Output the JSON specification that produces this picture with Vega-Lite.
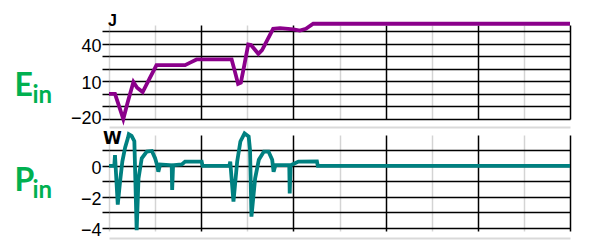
{
  "$schema": "https://vega.github.io/schema/vega-lite/v6.json",
  "background": "white",
  "padding": {"left": 14, "top": 13, "right": 5, "bottom": 5},
  "bounds": "flush",
  "spacing": 16,
  "config": {"view": {"stroke": null}},
  "datasets": {
    "E": [
      {"t": 0, "v": 0}, {"t": 0.13, "v": 0}, {"t": 0.22, "v": -10}, {"t": 0.31, "v": -20},
      {"t": 0.41, "v": -6}, {"t": 0.53, "v": 9.5}, {"t": 0.61, "v": 5}, {"t": 0.73, "v": 1.5},
      {"t": 0.89, "v": 13}, {"t": 1.03, "v": 23}, {"t": 1.65, "v": 23}, {"t": 1.76, "v": 25},
      {"t": 1.9, "v": 27.5}, {"t": 2.66, "v": 27.5}, {"t": 2.73, "v": 18}, {"t": 2.8, "v": 8},
      {"t": 2.86, "v": 9}, {"t": 2.93, "v": 22}, {"t": 3.02, "v": 39.5}, {"t": 3.08, "v": 39},
      {"t": 3.24, "v": 32}, {"t": 3.32, "v": 35}, {"t": 3.56, "v": 52}, {"t": 3.71, "v": 52.5},
      {"t": 4.0, "v": 51.5}, {"t": 4.14, "v": 50.5}, {"t": 4.27, "v": 52}, {"t": 4.43, "v": 56},
      {"t": 10, "v": 56}
    ],
    "P": [
      {"t": 0, "v": 0}, {"t": 0.115, "v": 0}, {"t": 0.13, "v": 0.7}, {"t": 0.19, "v": -2.5},
      {"t": 0.24, "v": -1.0}, {"t": 0.29, "v": 0.3}, {"t": 0.35, "v": 1.2}, {"t": 0.41, "v": 1.8},
      {"t": 0.43, "v": 2.05}, {"t": 0.49, "v": 1.95}, {"t": 0.55, "v": 1.6}, {"t": 0.6, "v": -4.15},
      {"t": 0.64, "v": -0.8}, {"t": 0.71, "v": 0.5}, {"t": 0.82, "v": 0.93}, {"t": 0.93, "v": 0.97},
      {"t": 1.0, "v": 0.5}, {"t": 1.04, "v": 0.1}, {"t": 1.07, "v": -0.37}, {"t": 1.11, "v": 0.1},
      {"t": 1.36, "v": 0.05}, {"t": 1.37, "v": -1.55}, {"t": 1.39, "v": 0.05}, {"t": 1.58, "v": 0.1},
      {"t": 1.65, "v": 0.28}, {"t": 2.01, "v": 0.28}, {"t": 2.03, "v": 0}, {"t": 2.61, "v": 0},
      {"t": 2.63, "v": 0.28}, {"t": 2.7, "v": -2.3}, {"t": 2.78, "v": 0.28}, {"t": 2.85, "v": 1.58},
      {"t": 2.94, "v": 2.1}, {"t": 3.03, "v": 1.9}, {"t": 3.06, "v": 1.0}, {"t": 3.09, "v": -3.27},
      {"t": 3.17, "v": -0.8}, {"t": 3.25, "v": 0.4}, {"t": 3.36, "v": 0.93}, {"t": 3.46, "v": 0.93},
      {"t": 3.54, "v": 0.4}, {"t": 3.57, "v": -0.37}, {"t": 3.61, "v": 0.05}, {"t": 3.91, "v": 0.05},
      {"t": 3.92, "v": -1.77}, {"t": 3.94, "v": 0.05}, {"t": 4.11, "v": 0.28}, {"t": 4.51, "v": 0.3},
      {"t": 4.53, "v": 0}, {"t": 10, "v": 0}
    ]
  },
  "vconcat": [
    {
      "width": 461,
      "height": 94,
      "data": {"name": "E"},
      "title": {"text": "J", "anchor": "start", "frame": "group", "font": "Liberation Sans", "fontSize": 16, "fontWeight": "bold", "color": "black", "offset": -13, "dx": -1},
      "mark": {"type": "line", "color": "#8b008b", "strokeWidth": 3.8, "clip": false},
      "encoding": {
        "x": {
          "field": "t", "type": "quantitative",
          "scale": {"domain": [0, 10], "nice": false, "zero": false},
          "axis": {
            "values": [0, 1, 2, 3, 4, 5, 6, 7, 8, 9, 10],
            "grid": true,
            "gridColor": {"condition": {"test": "datum.value % 2 === 0 && datum.value > 0", "value": "#000000"}, "value": "#d4d4d4"},
            "gridWidth": 1.5, "gridOpacity": 1,
            "labels": false, "ticks": false,
            "domain": true, "domainColor": "#d9d9d9", "domainWidth": 2, "offset": 8,
            "title": "in", "titleFont": "Lato", "titleFontSize": 24, "titleFontWeight": "bold", "titleColor": "#00b050",
            "titleAngle": 0, "titleAlign": "left", "titleBaseline": "alphabetic", "titleX": -77, "titleY": -25
          }
        },
        "y": {
          "field": "v", "type": "quantitative",
          "scale": {"domain": [-20, 55], "nice": false, "zero": false},
          "axis": {
            "values": [-20, -10, 0, 10, 20, 30, 40, 50],
            "grid": true, "gridColor": "#000000", "gridWidth": 1.5, "gridOpacity": 1,
            "ticks": true, "tickColor": "#000000", "tickSize": 7, "tickWidth": 1.5,
            "domain": false,
            "labelExpr": "datum.value == -20 || datum.value == 10 || datum.value == 40 ? datum.label : ''",
            "labelFont": "Liberation Sans", "labelFontSize": 18, "labelColor": "#000000", "labelPadding": 1,
            "labelOffset": {"condition": {"test": "datum.value == -20", "value": -1}, "value": 2.5},
            "labelBaseline": "middle", "labelOverlap": false, "labelFlush": false,
            "title": "E", "titleFont": "Lato", "titleFontSize": 32, "titleFontWeight": "bold", "titleColor": "#00b050",
            "titleAngle": 0, "titleAlign": "left", "titleBaseline": "alphabetic", "titleX": -95, "titleY": 70
          }
        }
      }
    },
    {
      "width": 461,
      "height": 96,
      "data": {"name": "P"},
      "title": {"text": "W", "anchor": "start", "frame": "group", "font": "DejaVu Sans", "fontSize": 17, "fontWeight": "bold", "color": "black", "offset": -22, "dx": -6},
      "mark": {"type": "line", "color": "#008080", "strokeWidth": 3.8, "clip": false},
      "encoding": {
        "x": {
          "field": "t", "type": "quantitative",
          "scale": {"domain": [0, 10], "nice": false, "zero": false},
          "axis": {
            "values": [0, 1, 2, 3, 4, 5, 6, 7, 8, 9, 10],
            "grid": true,
            "gridColor": {"condition": {"test": "datum.value % 2 === 0 && datum.value > 0", "value": "#000000"}, "value": "#d4d4d4"},
            "gridWidth": 1.5, "gridOpacity": 1,
            "labels": false, "ticks": false,
            "domain": true, "domainColor": "#d9d9d9", "domainWidth": 2, "offset": 7,
            "title": "in", "titleFont": "Lato", "titleFontSize": 24, "titleFontWeight": "bold", "titleColor": "#00b050",
            "titleAngle": 0, "titleAlign": "left", "titleBaseline": "alphabetic", "titleX": -77, "titleY": -41
          }
        },
        "y": {
          "field": "v", "type": "quantitative",
          "scale": {"domain": [-4.2, 2], "nice": false, "zero": false},
          "axis": {
            "values": [-4, -3, -2, -1, 0, 1],
            "grid": true, "gridColor": "#000000", "gridWidth": 1.5, "gridOpacity": 1,
            "ticks": true, "tickColor": "#000000", "tickSize": 7, "tickWidth": 1.5,
            "domain": false,
            "labelExpr": "datum.value == -4 || datum.value == -2 || datum.value == 0 ? datum.label : ''",
            "labelFont": "Liberation Sans", "labelFontSize": 18, "labelColor": "#000000", "labelPadding": 1,
            "labelOffset": 2.5, "labelBaseline": "middle", "labelOverlap": false, "labelFlush": false,
            "title": "P", "titleFont": "Lato", "titleFontSize": 32, "titleFontWeight": "bold", "titleColor": "#00b050",
            "titleAngle": 0, "titleAlign": "left", "titleBaseline": "alphabetic", "titleX": -95, "titleY": 55.5
          }
        }
      }
    }
  ]
}
